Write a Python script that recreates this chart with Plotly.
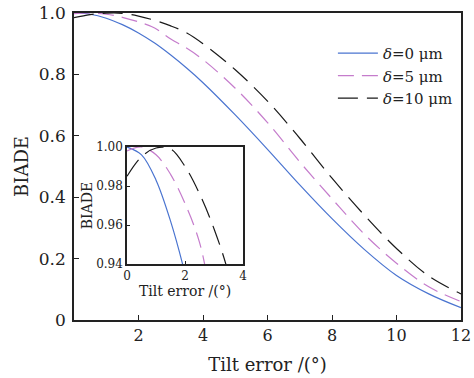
import plotly.graph_objects as go

tilt = [0, 0.5, 1, 1.5, 2, 2.5, 3, 3.5, 4, 5, 6, 7, 8, 9, 10, 11, 12]
biade_d0 = [1.000, 0.996, 0.983, 0.962, 0.935, 0.902, 0.863, 0.820, 0.773, 0.668, 0.556, 0.440, 0.330, 0.230, 0.145, 0.085, 0.040]
biade_d5 = [0.998, 1.000, 0.996, 0.986, 0.971, 0.951, 0.915, 0.885, 0.848, 0.755, 0.643, 0.515, 0.395, 0.280, 0.185, 0.108, 0.060]
biade_d10 = [0.985, 0.995, 0.9995, 0.999, 0.990, 0.976, 0.958, 0.935, 0.900, 0.815, 0.713, 0.592, 0.462, 0.342, 0.233, 0.143, 0.085]

names = ["<i>δ</i>=0 μm", "<i>δ</i>=5 μm", "<i>δ</i>=10 μm"]
series = [biade_d0, biade_d5, biade_d10]
colors = ["#4a74d0", "#c57ccc", "#1a1a1a"]
dashes = ["solid", "16px,8px", "20px,9px"]

main_xticks = [2, 4, 6, 8, 10, 12]
main_yticks = [0, 0.2, 0.4, 0.6, 0.8, 1.0]
main_yticktext = ["0", "0.2", "0.4", "0.6", "0.8", "1.0"]
inset_xticks = [0, 2, 4]
inset_yticks = [0.94, 0.96, 0.98, 1.00]
inset_yticktext = ["0.94", "0.96", "0.98", "1.00"]

FONT = "DejaVu Serif"

fig = go.Figure()
for nm, ys, c, d in zip(names, series, colors, dashes):
    fig.add_trace(go.Scatter(x=tilt, y=ys, mode="lines", name=nm,
                             line=dict(color=c, width=1.2, dash=d, shape="spline"),
                             xaxis="x", yaxis="y"))
for nm, ys, c, d in zip(names, series, colors, dashes):
    fig.add_trace(go.Scatter(x=tilt, y=ys, mode="lines", name=nm, showlegend=False,
                             line=dict(color=c, width=1.2, dash=d, shape="spline"),
                             xaxis="x2", yaxis="y2"))

axis_common = dict(showgrid=False, zeroline=False, showline=True, linecolor="#222",
                   linewidth=1.5, mirror=True, ticks="inside", tickcolor="#222",
                   automargin=False)

fig.update_layout(
    width=474, height=378,
    margin=dict(l=74, r=13, t=13, b=58),
    paper_bgcolor="white", plot_bgcolor="white",
    font=dict(family=FONT, color="#222", size=16),
    xaxis=dict(domain=[0, 1], range=[0, 12], tickvals=main_xticks, ticklen=5,
               tickfont=dict(size=16), title=dict(text="Tilt error /(°)", font=dict(size=18), standoff=14),
               **axis_common),
    yaxis=dict(domain=[0, 1], range=[0, 1], tickvals=main_yticks, ticktext=main_yticktext, ticklen=5,
               tickfont=dict(size=17), ticklabelstandoff=3,
               title=dict(text="BIADE", font=dict(size=18), standoff=6),
               **axis_common),
    xaxis2=dict(domain=[0.137, 0.437], range=[0, 4], tickvals=inset_xticks, ticklen=3,
                anchor="y2", tickfont=dict(size=12),
                title=dict(text="Tilt error /(°)", font=dict(size=14), standoff=0),
                **axis_common),
    yaxis2=dict(domain=[0.182, 0.5635], range=[0.94, 1.0], tickvals=inset_yticks,
                ticktext=inset_yticktext, ticklen=3, anchor="x2", tickfont=dict(size=12),
                title=dict(text="BIADE", font=dict(size=14), standoff=0),
                **axis_common),
    legend=dict(x=0.669, y=0.922, xanchor="left", yanchor="top", bgcolor="rgba(0,0,0,0)",
                font=dict(size=15), tracegroupgap=0, itemwidth=40),
    showlegend=True,
)

fig.write_html("out.html", config={"displayModeBar": False},
               post_script="document.body.style.margin='0px';")
